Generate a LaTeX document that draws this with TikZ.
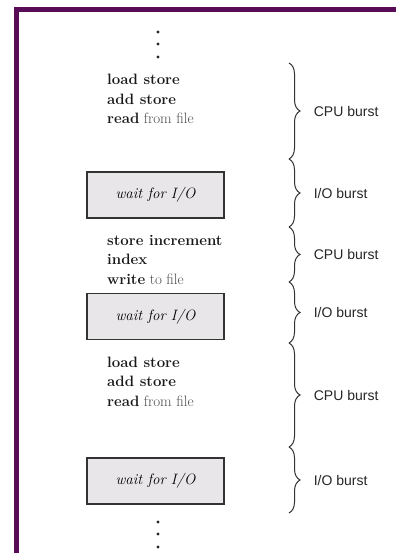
\documentclass[tikz,border=0pt]{standalone}
\usepackage{fontspec}
\newfontfamily\burstfont{Liberation Sans}
\usetikzlibrary{decorations.pathreplacing, positioning}
\definecolor{framepurple}{RGB}{88,12,88}
\definecolor{boxgray}{RGB}{232,230,232}
\newcommand{\op}[1]{\textbf{#1}}
\newcommand{\opnd}[1]{{\color{black!70}#1}}

\begin{document}
\begin{tikzpicture}[x=1pt, y=-1pt,
  code/.style={anchor=base west, align=left, inner sep=0pt, text=black!90,
               font=\fontsize{15}{19.5}\selectfont},
  iobox/.style={draw=black!80, line width=1.3pt, fill=boxgray, minimum width=137pt,
                minimum height=46pt, font=\fontsize{15}{17}\selectfont\itshape},
  brace/.style={decorate, decoration={brace, amplitude=11pt}, draw=black!80,
                line width=1pt},
  burst/.style={anchor=west, xshift=21pt, text=black!85,
                font=\burstfont\fontsize{14}{16}\selectfont},
  dot/.style={circle, fill=black!85, inner sep=0pt, minimum size=3.4pt}]
\useasboundingbox (0,0) rectangle (396,553);
\fill[white] (0,0) rectangle (396,553);
% frame
\fill[framepurple] (14,7) rectangle (396,12);
\fill[framepurple] (14,7) rectangle (19,553);

% dots at the top
\node[dot] (t1) at (158,32) {};
\node[dot] (t2) at (158,44) {};
\node[dot] (t3) at (158,57) {};

% code and waits (base = last line)
\node[code] (c1) at (107,124) {\op{load store}\\ \op{add store}\\ \op{read} \opnd{from file}};
\node[iobox] (w1) at (155.5,195) {wait for I/O};
\node[code] (c2) at (107,284) {\op{store increment}\\ \op{index}\\ \op{write} \opnd{to file}};
\node[iobox] (w2) at (155.5,316.5) {wait for I/O};
\node[code] (c3) at (107,406) {\op{load store}\\ \op{add store}\\ \op{read} \opnd{from file}};
\node[iobox] (w3) at (155.5,481) {wait for I/O};

% dots at the bottom
\node[dot] (d1) at (158,522) {};
\node[dot] (d2) at (158,534) {};
\node[dot] (d3) at (158,547) {};

% bursts
\coordinate (b0) at (289,63);
\coordinate (b1) at (289,159);
\coordinate (b2) at (289,227);
\coordinate (b3) at (289,282);
\coordinate (b4) at (289,343);
\coordinate (b5) at (289,447);
\coordinate (b6) at (289,513);
\draw[brace] (b0) -- node[burst] (cpu1) {CPU burst} (b1);
\draw[brace] (b1) -- node[burst] (io1) {I/O burst} (b2);
\draw[brace] (b2) -- node[burst] (cpu2) {CPU burst} (b3);
\draw[brace] (b3) -- node[burst] (io2) {I/O burst} (b4);
\draw[brace] (b4) -- node[burst] (cpu3) {CPU burst} (b5);
\draw[brace] (b5) -- node[burst] (io3) {I/O burst} (b6);
\end{tikzpicture}
\end{document}
